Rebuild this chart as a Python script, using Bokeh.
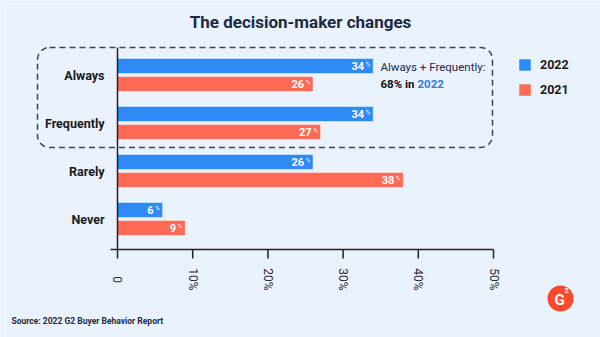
import math
from bokeh.plotting import figure
from bokeh.models import (Range1d, Label, BoxAnnotation, Legend, LegendItem,
                          ColumnDataSource)
from bokeh.core.properties import value
from bokeh.embed import file_html
from bokeh.resources import INLINE

# ---- data ----
categories = ["Always", "Frequently", "Rarely", "Never"]
values_2022 = [34, 34, 26, 6]
values_2021 = [26, 27, 38, 9]
series_names = ["2022", "2021"]
x_ticks = [0, 10, 20, 30, 40, 50]
x_tick_labels = ["0", "10%", "20%", "30%", "40%", "50%"]
title_text = "The decision-maker changes"
note_line1 = "Always + Frequently:"
note_line2a = "68% in"
note_line2b = "2022"
source_text = "Source: 2022 G2 Buyer Behavior Report"

BG = "#EAF2FD"
BLUE = "#2E8AF6"
RED = "#FF6A55"
DARK = "#1B2A44"
AXIS = "#222222"
FONT = "Roboto"

# ---- layout (pixels) ----
W, H = 600, 337
AX_L, AX_R, AX_T, AX_B = 117, 493, 47, 249   # plot area edges in px
X0, X1 = 0, 50
PX_PER_X = (AX_R - AX_L) / (X1 - X0)
CAT0_PX = 74.5
CAT_STEP = 48.0

def xd(px):
    return X0 + (px - AX_L) / PX_PER_X

def yd(py):
    return (py - CAT0_PX) / CAT_STEP

p = figure(width=W, height=H, output_backend="svg", toolbar_location=None,
           x_range=Range1d(xd(0), xd(W)), y_range=Range1d(yd(H), yd(0)),
           min_border=0)
p.background_fill_color = BG
p.border_fill_color = BG
p.outline_line_color = None
p.grid.visible = False
p.axis.visible = False

ys = list(range(len(categories)))
off = 9 / CAT_STEP
bh = 15 / CAT_STEP
src22 = ColumnDataSource(dict(y=[y - off for y in ys], v=values_2022,
                              t=[str(v) for v in values_2022]))
src21 = ColumnDataSource(dict(y=[y + off for y in ys], v=values_2021,
                              t=[str(v) for v in values_2021]))

r22 = p.hbar(y="y", right="v", left=0, height=bh, source=src22, fill_color=BLUE,
             line_color="#FFFFFF", line_alpha=0.45, line_width=1)
r21 = p.hbar(y="y", right="v", left=0, height=bh, source=src21, fill_color=RED,
             line_color="#FFFFFF", line_alpha=0.45, line_width=1)

for s in (src22, src21):
    p.text(x="v", y="y", text="t", source=s, x_offset=-9, text_align="right",
           text_baseline="middle", text_color="white", text_font=value(FONT),
           text_font_style="bold", text_font_size="11px")
    p.text(x="v", y="y", text=value("%"), source=s, x_offset=-3, y_offset=-3,
           text_align="right", text_baseline="middle", text_color="white",
           text_font=value(FONT), text_font_size="6px")

# ---- axes (drawn through the plot's scales) ----
p.segment(x0=[0], y0=[yd(AX_T)], x1=[0], y1=[yd(AX_B)], line_color=AXIS, line_width=1.5)
p.segment(x0=[xd(110)], y0=[yd(AX_B)], x1=[X1], y1=[yd(AX_B)], line_color=AXIS,
          line_width=1.5)
p.segment(x0=x_ticks, y0=[yd(AX_B)] * len(x_ticks), x1=x_ticks,
          y1=[yd(AX_B + 9)] * len(x_ticks), line_color=AXIS, line_width=1.5)
p.text(x=x_ticks, y=[yd(279)] * len(x_ticks), text=x_tick_labels, angle=-math.pi / 2,
       text_align="center", text_baseline="middle", text_color="#2a2a2a",
       text_font=value(FONT), text_font_size="12px")
p.text(x=[xd(104)] * len(categories), y=ys, text=categories, text_align="right",
       text_baseline="middle", text_color="#1a1a1a", text_font=value(FONT),
       text_font_style="bold", text_font_size="12.5px")

# legend
legend = Legend(items=[LegendItem(label=series_names[0], renderers=[r22]),
                       LegendItem(label=series_names[1], renderers=[r21])],
                location=(517, H - 97), glyph_width=15, glyph_height=15,
                spacing=10, padding=0, margin=0, label_standoff=8,
                border_line_color=None, background_fill_alpha=0,
                label_text_font=FONT, label_text_font_style="bold",
                label_text_font_size="12.5px", label_text_color="#1a1a1a",
                label_height=15)
p.add_layout(legend, "center")

# dashed highlight box
p.add_layout(BoxAnnotation(left=xd(37), right=xd(492), top=yd(47), bottom=yd(147),
                           fill_alpha=0, line_color="#3A4656", line_alpha=1,
                           line_width=1.5, line_dash="6 4", border_radius=12))

# note
p.add_layout(Label(x=xd(380), y=yd(66), text=note_line1, text_font=FONT,
                   text_font_size="11.5px", text_color=DARK, text_baseline="middle",
                   text_font_style="normal"))
p.add_layout(Label(x=xd(380), y=yd(83), text=note_line2a, text_font=FONT,
                   text_font_size="11.5px", text_color="#111111", text_baseline="middle",
                   text_font_style="bold"))
p.add_layout(Label(x=xd(417), y=yd(83), text=note_line2b, text_font=FONT,
                   text_font_size="11.5px", text_color="#2F7BD6", text_baseline="middle",
                   text_font_style="bold"))

# title
p.add_layout(Label(x=xd(300), y=yd(21), text=title_text, text_font=FONT,
                   text_font_size="17px", text_color=DARK, text_align="center",
                   text_baseline="middle", text_font_style="bold"))

# source
p.add_layout(Label(x=xd(11), y=yd(320), text=source_text, text_font=FONT,
                   text_font_size="8.5px", text_color=DARK, text_baseline="middle",
                   text_font_style="bold"))

# logo
p.add_layout(BoxAnnotation(left=xd(547), right=xd(573), top=yd(285), bottom=yd(311),
                           fill_color="#FF492C", fill_alpha=1, line_color=None,
                           border_radius=13))
p.add_layout(Label(x=xd(559), y=yd(299), text="G", text_font=FONT,
                   text_font_size="15px", text_color="white", text_align="center",
                   text_baseline="middle", text_font_style="bold"))
p.add_layout(Label(x=xd(566), y=yd(290), text="2", text_font=FONT,
                   text_font_size="7px", text_color="white", text_align="center",
                   text_baseline="middle", text_font_style="bold"))

open("out.html", "w").write(file_html(p, INLINE))
